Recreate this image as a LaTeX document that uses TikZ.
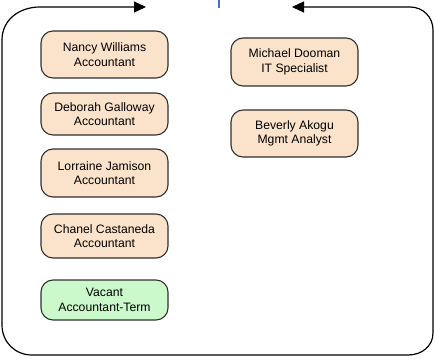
\documentclass[tikz,border=0pt]{standalone}
\usepackage{fontspec}
\setmainfont{Liberation Sans}
\usetikzlibrary{arrows.meta}
\definecolor{peach}{HTML}{FBE3CB}
\definecolor{mint}{HTML}{CCF9CC}
\definecolor{edge}{HTML}{303030}
\definecolor{bluemark}{HTML}{4A6CC0}
\begin{document}
\begin{tikzpicture}[x=1pt,y=-1pt,
  box/.style={draw=edge, line width=1.1pt, rounded corners=12pt, fill=peach,
    minimum width=127pt, align=center, inner sep=0pt,
    font=\fontsize{12.2}{14.5}\selectfont},
  vacant/.style={box, fill=mint},
  loop/.style={line width=1.2pt, {Triangle[length=12pt,width=11pt]}-{Triangle[length=12pt,width=11pt]}}]
\useasboundingbox (0,0) rectangle (434,361);
\fill[white] (0,0) rectangle (434,361);
\node[box, minimum height=47pt] (nancy) at (104.5,54.5) {Nancy Williams\\Accountant};
\node[box, minimum height=42pt] (deborah) at (104.5,114) {Deborah Galloway\\Accountant};
\node[box, minimum height=48pt] (lorraine) at (104.5,173) {Lorraine Jamison\\Accountant};
\node[box, minimum height=44pt] (chanel) at (104.5,236) {Chanel Castaneda\\Accountant};
\node[vacant, minimum height=40pt] (vacant) at (104.5,300) {Vacant\\Accountant-Term};
\node[box, minimum height=48pt] (michael) at (294.5,62) {Michael Dooman\\IT Specialist};
\node[box, minimum height=47pt] (beverly) at (294.5,133.5) {Beverly Akogu\\Mgmt Analyst};
\coordinate (leftend) at (146,7);
\coordinate (rightend) at (292,7);
\draw[loop] (leftend) -- (40,7) .. controls (19,7) and (2,20) .. (2,40)
  -- (2,325) .. controls (2,342) and (15,355) .. (32,355)
  -- (408,355) .. controls (422,355) and (433,346) .. (433,333)
  -- (433,30) .. controls (433,17) and (423,7) .. (410,7) -- (rightend);
\draw[bluemark, line width=1.3pt] (219,0) -- (219,8);
\end{tikzpicture}
\end{document}
